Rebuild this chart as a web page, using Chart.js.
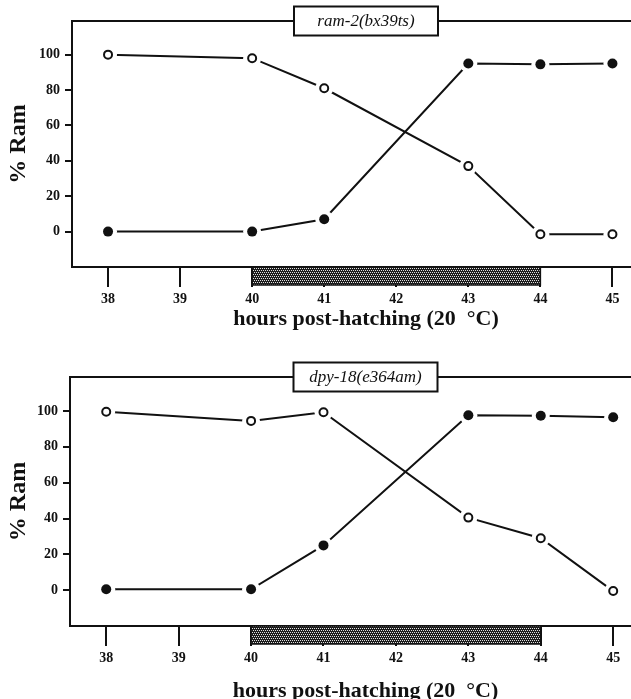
<!DOCTYPE html>
<html lang="en">
<head>
    <meta charset="UTF-8">
    <title>% Ram vs hours post-hatching</title>
    <script src="https://cdn.jsdelivr.net/npm/chart.js"></script>
    <style>
        html, body { margin: 0; padding: 0; background: #fff; overflow: hidden; }
        .panel { position: absolute; left: 0; width: 631px; overflow: hidden; }
        canvas { display: block; }
    </style>
</head>
<body>
    <div class="panel" style="top:0; height:350px;">
        <canvas id="chartTop" width="660" height="350"></canvas>
    </div>
    <div class="panel" style="top:356px; height:343px;">
        <canvas id="chartBottom" width="661" height="360"></canvas>
    </div>
    <script>
        // data
        const hours = [38, 40, 41, 43, 44, 45];
        const hourTicks = [38, 39, 40, 41, 42, 43, 44, 45];
        const ramTicks = [0, 20, 40, 60, 80, 100];
        const shiftWindow = [40, 44];   // shaded bar under the axis

        const ram2Open = [100, 98, 81, 37, -1.5, -1.5];
        const ram2Filled = [0, 0, 7, 95, 94.5, 95];
        const dpyOpen = [99.6, 94.5, 99.3, 40.5, 29, -0.5];
        const dpyFilled = [0.5, 0.5, 25, 97.6, 97.4, 96.5];

        const serif = "'Liberation Serif', 'Times New Roman', serif";
        const ink = '#111';

        // dotted fill for the shaded bar
        function makeStipple() {
            const c = document.createElement('canvas');
            c.width = 4; c.height = 4;
            const g = c.getContext('2d');
            g.fillStyle = '#1c1c1c';
            g.fillRect(0, 0, 4, 4);
            g.fillStyle = '#e0e0e0';
            g.fillRect(0, 0, 1, 1);
            g.fillRect(2, 0, 1, 1);
            g.fillRect(1, 2, 1, 1);
            g.fillRect(3, 2, 1, 1);
            return c;
        }

        const framePlugin = {
            id: 'frame',
            afterDraw(chart, args, opts) {
                const ctx = chart.ctx;
                const a = chart.chartArea;
                const x = chart.scales.x;
                ctx.save();
                // top edge of the frame
                ctx.strokeStyle = ink;
                ctx.lineWidth = 2;
                ctx.beginPath();
                ctx.moveTo(a.left - 1, a.top);
                ctx.lineTo(a.right, a.top);
                ctx.stroke();

                // shaded bar below the x axis
                const x0 = x.getPixelForValue(shiftWindow[0]);
                const x1 = x.getPixelForValue(shiftWindow[1]);
                ctx.fillStyle = ctx.createPattern(makeStipple(), 'repeat');
                ctx.fillRect(x0, a.bottom, x1 - x0, 18);
                ctx.lineWidth = 1.5;
                ctx.strokeRect(x0, a.bottom, x1 - x0, 18);

                // label box on the top edge
                const cx = (a.left + a.right) / 2;
                const w = 144, h = 29;
                ctx.fillStyle = '#fff';
                ctx.fillRect(cx - w / 2, a.top - h / 2, w, h);
                ctx.lineWidth = 2;
                ctx.strokeRect(cx - w / 2, a.top - h / 2, w, h);
                ctx.fillStyle = ink;
                ctx.font = 'italic 17px ' + serif;
                ctx.textAlign = 'center';
                ctx.textBaseline = 'middle';
                ctx.fillText(opts.label, cx, a.top + 1);
                ctx.restore();
            }
        };

        function makePanel(id, label, openVals, filledVals, yWidth, xHeight, titlePad) {
            const openPts = hours.map((h, i) => ({ x: h, y: openVals[i] }));
            const filledPts = hours.map((h, i) => ({ x: h, y: filledVals[i] }));
            const lineSet = pts => ({
                data: pts, borderColor: ink, borderWidth: 2, pointRadius: 0,
                fill: false, tension: 0, order: 3
            });
            const haloSet = pts => ({
                data: pts, showLine: false, pointRadius: 9, pointBorderWidth: 0,
                pointBackgroundColor: '#fff', pointBorderColor: '#fff', order: 2
            });

            return new Chart(document.getElementById(id), {
                type: 'line',
                data: {
                    datasets: [
                        lineSet(openPts),
                        lineSet(filledPts),
                        haloSet(openPts),
                        haloSet(filledPts),
                        {
                            data: openPts, showLine: false, pointRadius: 4,
                            pointBorderWidth: 2, pointBackgroundColor: '#fff',
                            pointBorderColor: ink, order: 1
                        },
                        {
                            data: filledPts, showLine: false, pointRadius: 5,
                            pointBorderWidth: 0, pointBackgroundColor: ink,
                            pointBorderColor: ink, order: 1
                        }
                    ]
                },
                options: {
                    responsive: false,
                    animation: false,
                    devicePixelRatio: 1,
                    layout: {
                        autoPadding: false,
                        padding: { top: 21, left: 0, right: 0, bottom: 0 }
                    },
                    plugins: {
                        legend: { display: false },
                        tooltip: { enabled: false },
                        frame: { label: label }
                    },
                    scales: {
                        x: {
                            type: 'linear',
                            min: 37.5,
                            max: 45.66,
                            afterBuildTicks: s => { s.ticks = hourTicks.map(v => ({ value: v })); },
                            afterFit: s => { s.height = xHeight; },
                            grid: {
                                drawOnChartArea: false, drawTicks: true,
                                tickLength: 20, color: ink, lineWidth: 2
                            },
                            border: { display: true, color: ink, width: 2 },
                            ticks: {
                                color: ink, padding: 4, maxRotation: 0,
                                font: { family: serif, size: 14, weight: 'bold' }
                            },
                            title: {
                                display: true,
                                text: 'hours post-hatching (20  °C)',
                                color: ink,
                                font: { family: serif, size: 22, weight: 'bold' },
                                padding: { top: 0, bottom: titlePad }
                            }
                        },
                        y: {
                            type: 'linear',
                            min: -20,
                            max: 119,
                            afterBuildTicks: s => { s.ticks = ramTicks.map(v => ({ value: v })); },
                            afterFit: s => { s.width = yWidth; },
                            grid: {
                                drawOnChartArea: false, drawTicks: true,
                                tickLength: 7, color: ink, lineWidth: 2
                            },
                            border: { display: true, color: ink, width: 2 },
                            ticks: {
                                color: ink, padding: 5,
                                font: { family: serif, size: 14, weight: 'bold' }
                            },
                            title: {
                                display: true,
                                text: '% Ram',
                                color: ink,
                                font: { family: serif, size: 24, weight: 'bold' },
                                padding: { top: 4, bottom: 0 }
                            }
                        }
                    }
                },
                plugins: [framePlugin]
            });
        }

        makePanel('chartTop', 'ram-2(bx39ts)', ram2Open, ram2Filled, 72, 83, 17);
        makePanel('chartBottom', 'dpy-18(e364am)', dpyOpen, dpyFilled, 70, 90, 11);
    </script>
</body>
</html>
